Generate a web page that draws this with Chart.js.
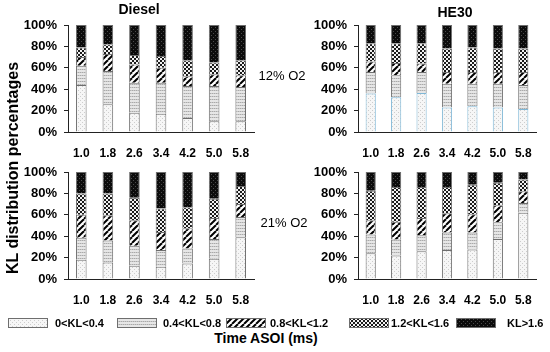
<!DOCTYPE html>
<html><head><meta charset="utf-8">
<script src="https://cdn.jsdelivr.net/npm/chart.js@4"></script>
<style>
body{margin:0;width:550px;height:352px;background:#fff;position:relative;overflow:hidden;font-family:"Liberation Sans",Arial,sans-serif;}
canvas.ch{position:absolute;}
.t{position:absolute;white-space:nowrap;color:#000;transform:translate(-50%,-50%);line-height:1;}
.lt{position:absolute;white-space:nowrap;color:#000;font-weight:bold;font-size:11px;line-height:1;transform:translateY(-50%);}
canvas.sw{position:absolute;}
</style></head><body>
<canvas id="c1" class="ch" width="260" height="165" style="left:0;top:0"></canvas>
<canvas id="c2" class="ch" width="260" height="165" style="left:290px;top:0"></canvas>
<canvas id="c3" class="ch" width="260" height="165" style="left:0;top:147px"></canvas>
<canvas id="c4" class="ch" width="260" height="165" style="left:290px;top:147px"></canvas>

<div class="t" style="left:139px;top:9px;font-size:14px;font-weight:bold">Diesel</div>
<div class="t" style="left:455px;top:12px;font-size:14px;font-weight:bold">HE30</div>
<div class="t" style="left:282px;top:75px;font-size:13px">12% O2</div>
<div class="t" style="left:284px;top:222px;font-size:13px">21% O2</div>
<div class="t" style="left:13px;top:168px;font-size:16px;font-weight:bold;transform:translate(-50%,-50%) rotate(-90deg)">KL distribution percentages</div>
<div class="t" style="left:266px;top:338px;font-size:14px;font-weight:bold">Time ASOI (ms)</div>
<div id="legend"></div>

<script>
// ---- data ----
const categories = ['1.0','1.8','2.6','3.4','4.2','5.0','5.8'];
const klRanges = ['0<KL<0.4','0.4<KL<0.8','0.8<KL<1.2','1.2<KL<1.6','KL>1.6'];

// Diesel, 12% O2
const diesel12_kl04 = [44,26,18,17,13,10,10];
const diesel12_kl08 = [18,31,28,29,30,33,32];
const diesel12_kl12 = [8,16,17,14,9,11,11];
const diesel12_kl16 = [9,9,9,11,15,11,14];
const diesel12_klgt = [21,18,28,29,33,35,33];

// HE30, 12% O2
const he30_12_kl04 = [36,32.5,36.5,23,24,23,21.5];
const he30_12_kl08 = [20,20.5,19.5,22,21,22,22.5];
const he30_12_kl12 = [10,11.5,8,11,11,11,12];
const he30_12_kl16 = [17,18.5,19,22,23,22,22];
const he30_12_klgt = [17,17,17,22,21,22,22];

// Diesel, 21% O2
const diesel21_kl04 = [18,15.5,12.5,11.5,14.5,19,39];
const diesel21_kl08 = [20.5,20.5,18.5,15.5,14,18.5,19];
const diesel21_kl12 = [21.5,23.5,24,17,19,19.5,12];
const diesel21_kl16 = [20,20.5,21,22,19.5,18,17];
const diesel21_klgt = [20,20,24,34,33,25,13];

// HE30, 21% O2
const he30_21_kl04 = [24,22,26,27,27.5,37.5,62];
const he30_21_kl08 = [17.5,15,15,16.5,16,15.5,9];
const he30_21_kl12 = [13.5,16.5,16,18,17,16,11];
const he30_21_kl16 = [27.5,32.5,29,24.5,27.5,21,11];
const he30_21_klgt = [17.5,14,14,14,12,10,7];

// ---- patterns ----
function tile(w,h,draw){const c=document.createElement('canvas');c.width=w;c.height=h;const x=c.getContext('2d');draw(x);return c;}
const tiles = [
  tile(4,4,x=>{x.fillStyle='#f6f6f6';x.fillRect(0,0,4,4);x.fillStyle='#cdcdcd';x.fillRect(0,0,1,1);x.fillRect(2,2,1,1);}),
  tile(2,3,x=>{x.fillStyle='#e6e6e6';x.fillRect(0,0,2,3);x.fillStyle='#a9a9a9';x.fillRect(0,0,1,1);x.fillStyle='#c9c9c9';x.fillRect(1,0,1,1);}),
  tile(6,6,x=>{x.fillStyle='#fff';x.fillRect(0,0,6,6);x.strokeStyle='#000';x.lineWidth=2;for(const k of [-6,0,6]){x.beginPath();x.moveTo(k,6);x.lineTo(k+6,0);x.stroke();}}),
  tile(4,4,x=>{x.fillStyle='#f2f2f2';x.fillRect(0,0,4,4);x.fillStyle='#1a1a1a';x.fillRect(0,0,2,2);x.fillRect(2,2,2,2);}),
  tile(4,4,x=>{x.fillStyle='#0c0c0c';x.fillRect(0,0,4,4);x.fillStyle='#4a4a4a';x.fillRect(1,1,1,1);x.fillRect(3,3,1,1);})
];
const pctx = document.createElement('canvas').getContext('2d');
const patterns = tiles.map(t=>pctx.createPattern(t,'repeat'));

const FONT = '"Liberation Sans", Arial, sans-serif';

function makeChart(id, series, rightPad, firstBorder){
  new Chart(document.getElementById(id),{
    type:'bar',
    data:{labels:categories,datasets:klRanges.map((r,i)=>({
      label:r,data:series[i],backgroundColor:patterns[i],
      borderColor:(i===0&&firstBorder)?firstBorder:'#6e6e6e',borderWidth:1,
      barPercentage:0.4,categoryPercentage:1
    }))},
    options:{
      responsive:false,animation:false,
      layout:{padding:{top:25,right:rightPad,left:0,bottom:0}},
      plugins:{legend:{display:false},tooltip:{enabled:false}},
      scales:{
        x:{stacked:true,grid:{display:false},border:{display:true,color:'#222',width:1},
           ticks:{color:'#000',font:{family:FONT,size:12,weight:'bold'},padding:6,maxRotation:0,autoSkip:false},
           afterFit:s=>{s.height=33;}},
        y:{stacked:true,min:0,max:100,
           ticks:{stepSize:20,callback:v=>v+'%',color:'#000',font:{family:FONT,size:13,weight:'bold'},padding:7},
           grid:{drawOnChartArea:false,drawTicks:true,tickLength:4,color:'#222'},
           border:{display:true,color:'#222'},
           afterFit:s=>{s.width=68;}}
      }
    }
  });
}

makeChart('c1',[diesel12_kl04,diesel12_kl08,diesel12_kl12,diesel12_kl16,diesel12_klgt],6,null);
makeChart('c2',[he30_12_kl04,he30_12_kl08,he30_12_kl12,he30_12_kl16,he30_12_klgt],14,'#7fb7d6');
makeChart('c3',[diesel21_kl04,diesel21_kl08,diesel21_kl12,diesel21_kl16,diesel21_klgt],6,null);
makeChart('c4',[he30_21_kl04,he30_21_kl08,he30_21_kl12,he30_21_kl16,he30_21_klgt],14,null);

// ---- legend ----
const swLeft=[8,117,226,349,456], txLeft=[55,163,270,391,507];
const lg=document.getElementById('legend');
klRanges.forEach((r,i)=>{
  const c=document.createElement('canvas');c.className='sw';c.width=40;c.height=10;
  c.style.left=swLeft[i]+'px';c.style.top='318px';
  const x=c.getContext('2d');x.fillStyle=x.createPattern(tiles[i],'repeat');x.fillRect(0,0,40,10);
  x.strokeStyle='#6e6e6e';x.lineWidth=1;x.strokeRect(0.5,0.5,39,9);
  lg.appendChild(c);
  const d=document.createElement('div');d.className='lt';d.textContent=r;
  d.style.left=txLeft[i]+'px';d.style.top='323px';lg.appendChild(d);
});
</script>
</body></html>
